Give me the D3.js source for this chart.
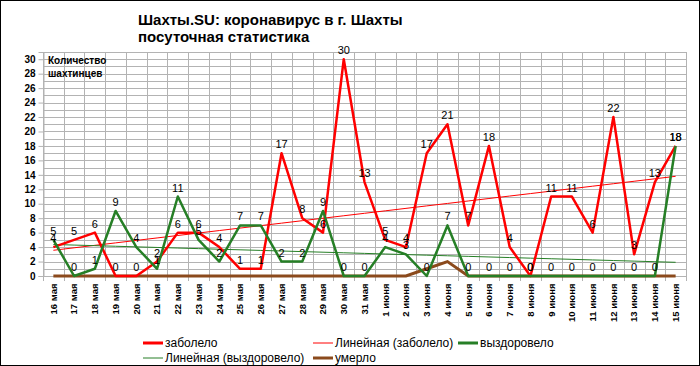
<!DOCTYPE html>
<html>
<head>
<meta charset="utf-8">
<script src="https://cdn.jsdelivr.net/npm/d3@7"></script>
<style>
body { margin: 0; background: #fff; }
text { font-family: "Liberation Sans", Arial, sans-serif; }
</style>
</head>
<body>
<script>
// данные
var days = ["16 мая","17 мая","18 мая","19 мая","20 мая","21 мая","22 мая","23 мая","24 мая","25 мая",
    "26 мая","27 мая","28 мая","29 мая","30 мая","31 мая","1 июня","2 июня","3 июня","4 июня","5 июня",
    "6 июня","7 июня","8 июня","9 июня","10 июня","11 июня","12 июня","13 июня","14 июня","15 июня"];
var zabolelo = [4,5,6,0,0,2,6,6,4,1,1,17,8,6,30,13,5,4,17,21,7,18,4,0,11,11,6,22,3,13,18];
var vyzdorovelo = [5,0,1,9,4,1,11,5,2,7,7,2,2,9,0,0,4,3,0,7,0,0,0,0,0,0,0,0,0,0,18];
var umerlo = [0,0,0,0,0,0,0,0,0,0,0,0,0,0,0,0,0,0,1,2,0,0,0,0,0,0,0,0,0,0,0];
var yTicks = [0,2,4,6,8,10,12,14,16,18,20,22,24,26,28,30];

var width = 700, height = 366;
var plotLeft = 43, plotRight = 686, plotTop = 52, plotBottom = 276;

var red = "#ff0000", green = "#267f26", brown = "#8b4a1c";

var svg = d3.select("body").append("svg")
    .attr("width", width)
    .attr("height", height);

svg.append("rect").attr("x",0.5).attr("y",0.5).attr("width",width-1).attr("height",height-1)
    .attr("fill","#fff").attr("stroke","#000");

var x = d3.scaleBand().domain(days).range([plotLeft, plotRight]);
var y = d3.scaleLinear().domain([0, 31]).range([plotBottom, plotTop]);

// сетка
var g = svg.append("g");
g.selectAll(".hg").data(d3.range(0, 32)).enter().append("line")
    .attr("x1", plotLeft).attr("x2", plotRight)
    .attr("y1", function(d){ return Math.round(y(d))+0.5; })
    .attr("y2", function(d){ return Math.round(y(d))+0.5; })
    .attr("stroke", "#b3b3b3");
var bounds = days.map(function(d){ return x(d); }).concat([plotRight]);
g.selectAll(".vg").data(bounds).enter().append("line")
    .attr("x1", function(d){ return Math.round(d)+0.5; })
    .attr("x2", function(d){ return Math.round(d)+0.5; })
    .attr("y1", plotTop).attr("y2", plotBottom + 5)
    .attr("stroke", "#b3b3b3");

// оси
var yAxis = d3.axisLeft(y).tickValues(yTicks).tickSize(5).tickPadding(3);
var yg = svg.append("g").attr("transform","translate(" + (plotLeft+0.5) + ",0)").call(yAxis);
yg.select(".domain").attr("stroke","#b3b3b3");
yg.selectAll(".tick line").attr("stroke","#b3b3b3");
yg.selectAll("text").attr("font-size", 10).attr("font-weight","bold").attr("fill","#000");

var xAxis = d3.axisBottom(x).tickSize(0);
var xg = svg.append("g").attr("transform","translate(0," + (plotBottom+0.5) + ")").call(xAxis);
xg.select(".domain").remove();
xg.selectAll("text")
    .attr("font-size", 9.5).attr("font-weight","bold").attr("fill","#000")
    .attr("text-anchor","end")
    .attr("transform","rotate(-90)")
    .attr("x", -7).attr("y", 0).attr("dy", "0.35em");

// линии тренда
function trend(vals){
    var n = vals.length, sx = 0, sy = 0, sxy = 0, sxx = 0;
    for (var i = 0; i < n; i++){ sx += i; sy += vals[i]; sxy += i*vals[i]; sxx += i*i; }
    var b = (n*sxy - sx*sy) / (n*sxx - sx*sx);
    var a = (sy - b*sx) / n;
    return vals.map(function(v, i){ return a + b*i; });
}
var line = d3.line()
    .x(function(d,i){ return x(days[i]) + x.bandwidth()/2; })
    .y(function(d){ return y(d); });

svg.append("path").datum(trend(zabolelo)).attr("d", line)
    .attr("fill","none").attr("stroke", red).attr("stroke-width", 1);
svg.append("path").datum(trend(vyzdorovelo)).attr("d", line)
    .attr("fill","none").attr("stroke", green).attr("stroke-width", 1);

svg.append("path").datum(umerlo).attr("d", line)
    .attr("fill","none").attr("stroke", brown).attr("stroke-width", 3);
svg.append("path").datum(zabolelo).attr("d", line)
    .attr("fill","none").attr("stroke", red).attr("stroke-width", 2.5).attr("stroke-linejoin","round");
svg.append("path").datum(vyzdorovelo).attr("d", line)
    .attr("fill","none").attr("stroke", green).attr("stroke-width", 2.5).attr("stroke-linejoin","round");

// подписи значений
[zabolelo, vyzdorovelo].forEach(function(series){
    svg.selectAll(null).data(series).enter().append("text")
        .attr("x", function(d,i){ return x(days[i]) + x.bandwidth()/2; })
        .attr("y", function(d){ return y(d) - 5; })
        .attr("text-anchor","middle")
        .attr("font-size", 11)
        .attr("fill","#000")
        .text(function(d){ return d; });
});

// заголовок
svg.append("text").attr("x",138).attr("y",25).attr("font-size",15).attr("font-weight","bold")
    .text("Шахты.SU: коронавирус в г. Шахты");
svg.append("text").attr("x",138).attr("y",42).attr("font-size",15).attr("font-weight","bold")
    .text("посуточная статистика");
svg.append("text").attr("x",48).attr("y",64).attr("font-size",10).attr("font-weight","bold")
    .text("Количество");
svg.append("text").attr("x",48).attr("y",77).attr("font-size",10).attr("font-weight","bold")
    .text("шахтинцев");

// легенда
var legend = [
    {name:"заболело", color:red, w:3, x:143, y:343},
    {name:"Линейная (заболело)", color:red, w:1, x:313, y:343},
    {name:"выздоровело", color:green, w:3, x:458, y:343},
    {name:"Линейная (выздоровело)", color:green, w:1, x:143, y:358},
    {name:"умерло", color:brown, w:3, x:313, y:358}
];
var lg = svg.selectAll(".lg").data(legend).enter().append("g");
lg.append("line")
    .attr("x1", function(d){ return d.x; }).attr("x2", function(d){ return d.x + 20; })
    .attr("y1", function(d){ return d.y; }).attr("y2", function(d){ return d.y; })
    .attr("stroke", function(d){ return d.color; }).attr("stroke-width", function(d){ return d.w; });
lg.append("text")
    .attr("x", function(d){ return d.x + 22; }).attr("y", function(d){ return d.y; })
    .attr("dy","0.35em").attr("font-size", 12)
    .text(function(d){ return d.name; });
</script>
</body>
</html>
